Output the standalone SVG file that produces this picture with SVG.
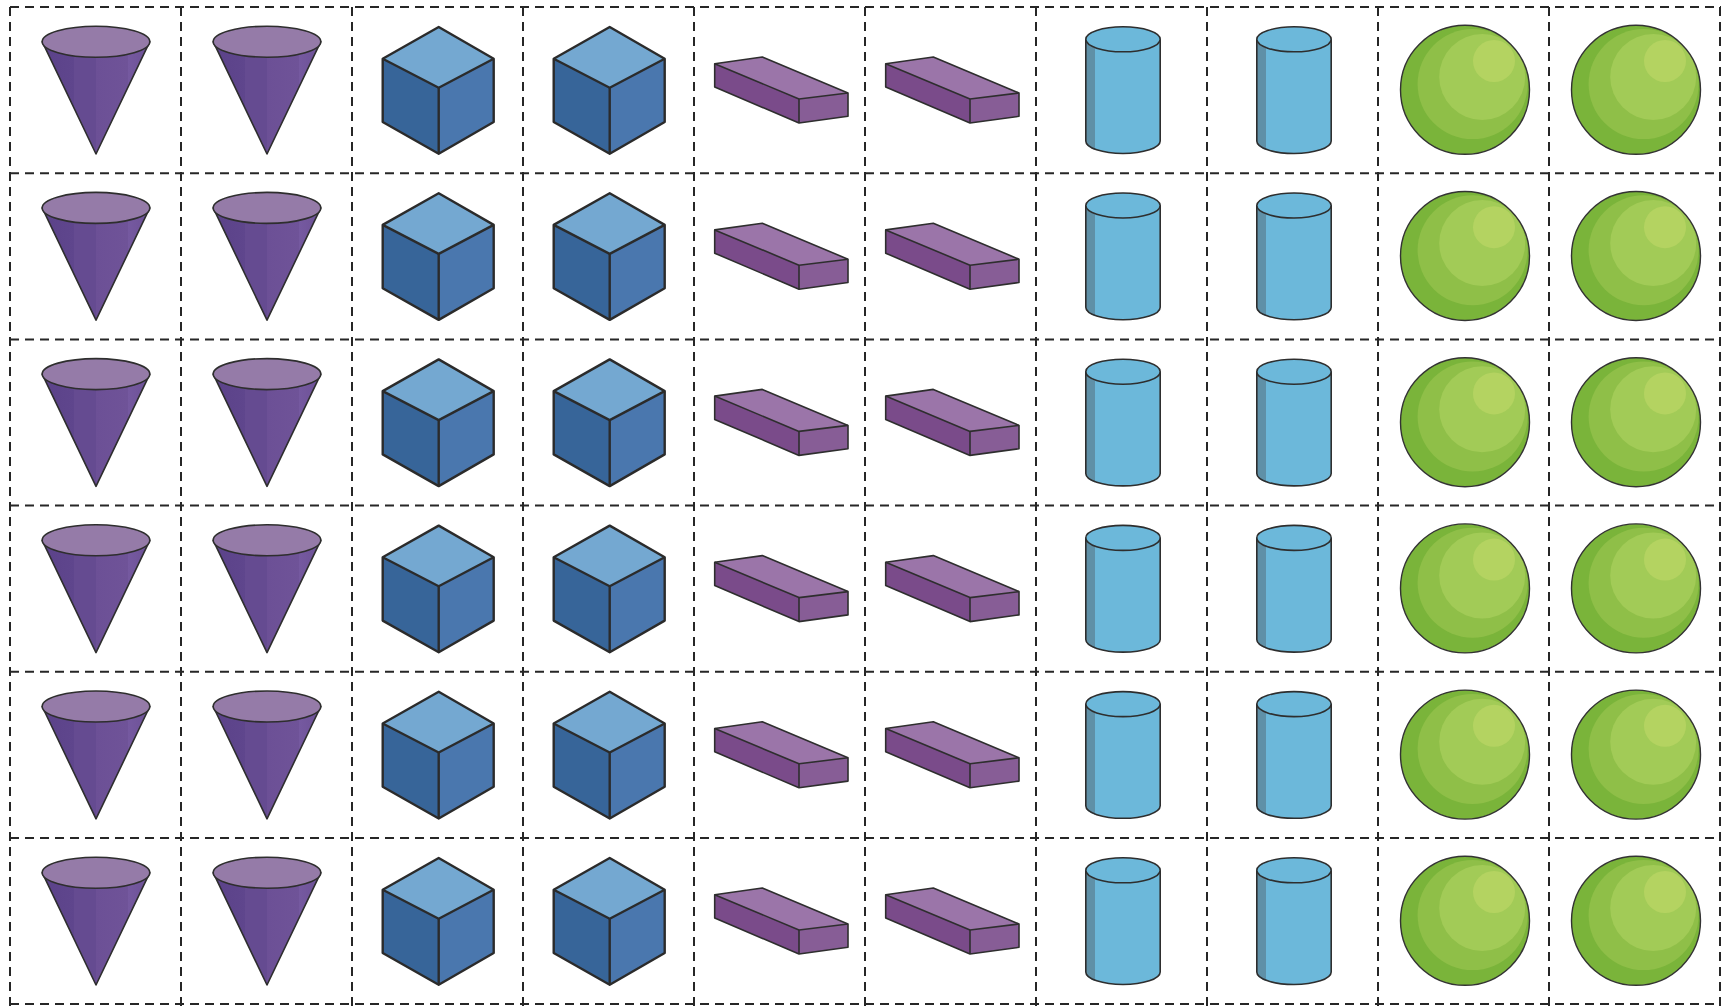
<svg xmlns="http://www.w3.org/2000/svg" xmlns:xlink="http://www.w3.org/1999/xlink" width="1721" height="1006" viewBox="0 0 1721 1006">
<style>
.grid line{stroke:#262626;stroke-width:2;stroke-dasharray:9 6;}
.edge{stroke:#2e2e2e;stroke-width:1.6;stroke-linejoin:round;}
.cubeedge{stroke:#2b2b2b;stroke-width:2.4;stroke-linejoin:round;}
</style>
<defs>
<linearGradient id="coneBody" x1="0" y1="0" x2="1" y2="0">
<stop offset="0" stop-color="#5b4289"/>
<stop offset="0.3" stop-color="#5f468d"/>
<stop offset="0.3" stop-color="#654b91"/>
<stop offset="0.5" stop-color="#654b91"/>
<stop offset="0.5" stop-color="#6c5096"/>
<stop offset="0.8" stop-color="#6f5398"/>
<stop offset="0.8" stop-color="#7559a0"/>
<stop offset="1" stop-color="#6d5196"/>
</linearGradient>
<g id="cone">
<polygon points="32.2,34.7 86,147 139.8,34.7" fill="url(#coneBody)" class="edge" stroke-width="1"/>
<ellipse cx="86" cy="34.7" rx="53.8" ry="15.5" fill="#957ba8" class="edge"/>
</g>
<g id="cube">
<polygon points="86.7,20 141.7,51.7 86.7,80.7 30.7,51.7" fill="#74a8d1"/>
<polygon points="30.7,51.7 86.7,80.7 86.7,146.7 30.7,115" fill="#376599"/>
<polygon points="86.7,80.7 141.7,51.7 141.7,115 86.7,146.7" fill="#4a77ae"/>
<polygon points="86.7,20 141.7,51.7 141.7,115 86.7,146.7 30.7,115 30.7,51.7" fill="none" class="cubeedge"/>
<polyline points="30.7,51.7 86.7,80.7 141.7,51.7" fill="none" class="cubeedge"/>
<line x1="86.7" y1="80.7" x2="86.7" y2="146.7" class="cubeedge"/>
</g>
<g id="prism">
<polygon points="20.7,56.7 68.3,50 154,86 105,92" fill="#9b75a9"/>
<polygon points="20.7,56.7 105,92 105,116 20.7,80" fill="#7a4b8a"/>
<polygon points="105,92 154,86 154,109.3 105,116" fill="#875d96"/>
<polygon points="20.7,56.7 68.3,50 154,86 154,109.3 105,116 20.7,80" fill="none" class="edge"/>
<polyline points="20.7,56.7 105,92 154,86" fill="none" class="edge"/>
<line x1="105" y1="92" x2="105" y2="116" class="edge"/>
</g>
<g id="cylinder">
<path d="M49.8,32.3 L49.8,134 A37.2,12.5 0 0 0 124.2,134 L124.2,32.3 Z" fill="#6cb8da"/>
<path d="M49.8,32.3 L49.8,134 A37.2,12.5 0 0 0 59,143 L59,41 A37.2,12.5 0 0 1 49.8,32.3 Z" fill="#5f90a7"/>
<path d="M49.8,32.3 L49.8,134 A37.2,12.5 0 0 0 124.2,134 L124.2,32.3" fill="none" class="edge"/>
<ellipse cx="87" cy="32.3" rx="37.2" ry="12.5" fill="#6cb8da" class="edge"/>
</g>
<g id="sphere">
<circle cx="87" cy="82.8" r="64.5" fill="#7ab43a"/>
<circle cx="94.6" cy="77.1" r="55" fill="#8fbf48"/>
<circle cx="104.2" cy="69.9" r="43" fill="#a2cb57"/>
<circle cx="116" cy="54" r="21" fill="#b4d361"/>
<circle cx="87" cy="82.8" r="64.5" fill="none" stroke="#333" stroke-width="1.4"/>
</g>
</defs>
<rect width="1721" height="1006" fill="#ffffff"/>
<g id="nodes">
<g id="r1c1"><use xlink:href="#cone" x="10" y="7"/></g>
<g id="r1c2"><use xlink:href="#cone" x="181" y="7"/></g>
<g id="r1c3"><use xlink:href="#cube" x="352" y="7"/></g>
<g id="r1c4"><use xlink:href="#cube" x="523" y="7"/></g>
<g id="r1c5"><use xlink:href="#prism" x="694" y="7"/></g>
<g id="r1c6"><use xlink:href="#prism" x="865" y="7"/></g>
<g id="r1c7"><use xlink:href="#cylinder" x="1036" y="7"/></g>
<g id="r1c8"><use xlink:href="#cylinder" x="1207" y="7"/></g>
<g id="r1c9"><use xlink:href="#sphere" x="1378" y="7"/></g>
<g id="r1c10"><use xlink:href="#sphere" x="1549" y="7"/></g>

<g id="r2c1"><use xlink:href="#cone" x="10" y="173.2"/></g>
<g id="r2c2"><use xlink:href="#cone" x="181" y="173.2"/></g>
<g id="r2c3"><use xlink:href="#cube" x="352" y="173.2"/></g>
<g id="r2c4"><use xlink:href="#cube" x="523" y="173.2"/></g>
<g id="r2c5"><use xlink:href="#prism" x="694" y="173.2"/></g>
<g id="r2c6"><use xlink:href="#prism" x="865" y="173.2"/></g>
<g id="r2c7"><use xlink:href="#cylinder" x="1036" y="173.2"/></g>
<g id="r2c8"><use xlink:href="#cylinder" x="1207" y="173.2"/></g>
<g id="r2c9"><use xlink:href="#sphere" x="1378" y="173.2"/></g>
<g id="r2c10"><use xlink:href="#sphere" x="1549" y="173.2"/></g>

<g id="r3c1"><use xlink:href="#cone" x="10" y="339.4"/></g>
<g id="r3c2"><use xlink:href="#cone" x="181" y="339.4"/></g>
<g id="r3c3"><use xlink:href="#cube" x="352" y="339.4"/></g>
<g id="r3c4"><use xlink:href="#cube" x="523" y="339.4"/></g>
<g id="r3c5"><use xlink:href="#prism" x="694" y="339.4"/></g>
<g id="r3c6"><use xlink:href="#prism" x="865" y="339.4"/></g>
<g id="r3c7"><use xlink:href="#cylinder" x="1036" y="339.4"/></g>
<g id="r3c8"><use xlink:href="#cylinder" x="1207" y="339.4"/></g>
<g id="r3c9"><use xlink:href="#sphere" x="1378" y="339.4"/></g>
<g id="r3c10"><use xlink:href="#sphere" x="1549" y="339.4"/></g>

<g id="r4c1"><use xlink:href="#cone" x="10" y="505.6"/></g>
<g id="r4c2"><use xlink:href="#cone" x="181" y="505.6"/></g>
<g id="r4c3"><use xlink:href="#cube" x="352" y="505.6"/></g>
<g id="r4c4"><use xlink:href="#cube" x="523" y="505.6"/></g>
<g id="r4c5"><use xlink:href="#prism" x="694" y="505.6"/></g>
<g id="r4c6"><use xlink:href="#prism" x="865" y="505.6"/></g>
<g id="r4c7"><use xlink:href="#cylinder" x="1036" y="505.6"/></g>
<g id="r4c8"><use xlink:href="#cylinder" x="1207" y="505.6"/></g>
<g id="r4c9"><use xlink:href="#sphere" x="1378" y="505.6"/></g>
<g id="r4c10"><use xlink:href="#sphere" x="1549" y="505.6"/></g>

<g id="r5c1"><use xlink:href="#cone" x="10" y="671.8"/></g>
<g id="r5c2"><use xlink:href="#cone" x="181" y="671.8"/></g>
<g id="r5c3"><use xlink:href="#cube" x="352" y="671.8"/></g>
<g id="r5c4"><use xlink:href="#cube" x="523" y="671.8"/></g>
<g id="r5c5"><use xlink:href="#prism" x="694" y="671.8"/></g>
<g id="r5c6"><use xlink:href="#prism" x="865" y="671.8"/></g>
<g id="r5c7"><use xlink:href="#cylinder" x="1036" y="671.8"/></g>
<g id="r5c8"><use xlink:href="#cylinder" x="1207" y="671.8"/></g>
<g id="r5c9"><use xlink:href="#sphere" x="1378" y="671.8"/></g>
<g id="r5c10"><use xlink:href="#sphere" x="1549" y="671.8"/></g>

<g id="r6c1"><use xlink:href="#cone" x="10" y="838"/></g>
<g id="r6c2"><use xlink:href="#cone" x="181" y="838"/></g>
<g id="r6c3"><use xlink:href="#cube" x="352" y="838"/></g>
<g id="r6c4"><use xlink:href="#cube" x="523" y="838"/></g>
<g id="r6c5"><use xlink:href="#prism" x="694" y="838"/></g>
<g id="r6c6"><use xlink:href="#prism" x="865" y="838"/></g>
<g id="r6c7"><use xlink:href="#cylinder" x="1036" y="838"/></g>
<g id="r6c8"><use xlink:href="#cylinder" x="1207" y="838"/></g>
<g id="r6c9"><use xlink:href="#sphere" x="1378" y="838"/></g>
<g id="r6c10"><use xlink:href="#sphere" x="1549" y="838"/></g>
</g>
<g id="connectors" class="grid">
<line x1="10" y1="7" x2="1721" y2="7"/>
<line x1="10" y1="173.2" x2="1721" y2="173.2"/>
<line x1="10" y1="339.4" x2="1721" y2="339.4"/>
<line x1="10" y1="505.6" x2="1721" y2="505.6"/>
<line x1="10" y1="671.8" x2="1721" y2="671.8"/>
<line x1="10" y1="838" x2="1721" y2="838"/>
<line x1="10" y1="1004" x2="1721" y2="1004"/>
<line x1="10" y1="7" x2="10" y2="1006"/>
<line x1="181" y1="7" x2="181" y2="1006"/>
<line x1="352" y1="7" x2="352" y2="1006"/>
<line x1="523" y1="7" x2="523" y2="1006"/>
<line x1="694" y1="7" x2="694" y2="1006"/>
<line x1="865" y1="7" x2="865" y2="1006"/>
<line x1="1036" y1="7" x2="1036" y2="1006"/>
<line x1="1207" y1="7" x2="1207" y2="1006"/>
<line x1="1378" y1="7" x2="1378" y2="1006"/>
<line x1="1549" y1="7" x2="1549" y2="1006"/>
<line x1="1720" y1="7" x2="1720" y2="1006"/>
</g>
</svg>
